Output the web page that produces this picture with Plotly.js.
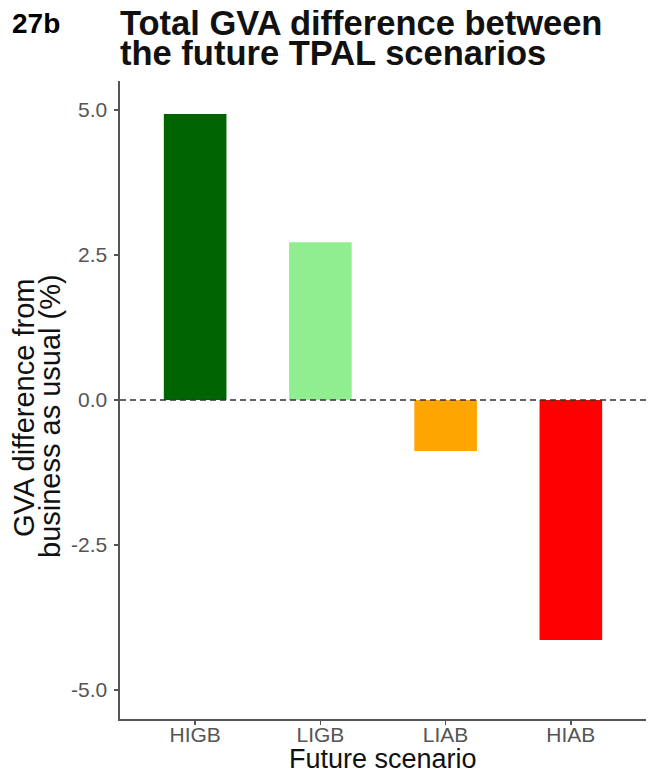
<!DOCTYPE html>
<html><head><meta charset="utf-8">
<script src="https://cdn.plot.ly/plotly-3.0.1.min.js"></script>
<style>body{margin:0;background:#fff}#chart{width:666px;height:776px}</style>
</head><body><div id="chart"></div>
<script>
const scenarios = ["HIGB", "LIGB", "LIAB", "HIAB"];
const gvaDiff = [4.93, 2.72, -0.88, -4.14];
const barColors = ["#006400", "#90EE90", "#FFA500", "#FF0000"];
const yTicks = [-5, -2.5, 0, 2.5, 5];
const yTickText = ["-5.0", "-2.5", "0.0", "2.5", "5.0"];

const font = "Liberation Sans, Arial, sans-serif";
const L = 120, T = 81, W = 526, H = 638;
const px = v => (v - L) / W;
const py = v => 1 - (v - T) / H;

const trace = {
  type: "bar", x: scenarios, y: gvaDiff, width: 0.5,
  marker: {color: barColors, line: {width: 0}}, hoverinfo: "none"
};
const layout = {
  width: 666, height: 776,
  margin: {l: L, r: 666 - L - W, t: T, b: 776 - T - H},
  paper_bgcolor: "#fff", plot_bgcolor: "#fff",
  showlegend: false,
  xaxis: {
    range: [-0.6, 3.6], showgrid: false, zeroline: false,
    showline: true, linecolor: "#555", linewidth: 1.6,
    ticks: "outside", ticklen: 4, tickcolor: "#555", tickwidth: 1.3,
    ticklabelstandoff: -8,
    tickfont: {family: font, size: 21, color: "#555"}
  },
  yaxis: {
    range: [-5.5, 5.5], showgrid: false, zeroline: false,
    showline: true, linecolor: "#555", linewidth: 1.6,
    ticks: "outside", ticklen: 4, tickcolor: "#555", tickwidth: 1.3,
    ticklabelstandoff: 3,
    tickvals: yTicks, ticktext: yTickText,
    tickfont: {family: font, size: 21, color: "#555"}
  },
  shapes: [{
    type: "line", xref: "paper", yref: "y", x0: 0, x1: 1, y0: 0, y1: 0,
    line: {color: "#333", width: 1.4, dash: "6px,4px"}
  }],
  annotations: [
    {text: "<b>27b</b>", xref: "paper", yref: "paper", x: px(10), y: py(23),
     xanchor: "left", yanchor: "middle", height: 26, showarrow: false, font: {family: font, size: 28, color: "#000"}},
    {text: "<b>Total GVA difference between</b>", xref: "paper", yref: "paper", x: px(118), y: py(23),
     xanchor: "left", yanchor: "middle", height: 26, showarrow: false, font: {family: font, size: 34.5, color: "#111"}},
    {text: "<b>the future TPAL scenarios</b>", xref: "paper", yref: "paper", x: px(118), y: py(53),
     xanchor: "left", yanchor: "middle", height: 26, showarrow: false, font: {family: font, size: 34.5, color: "#111"}},
    {text: "GVA difference from", xref: "paper", yref: "paper",
     x: px(24), y: py(408), xanchor: "center", yanchor: "middle", textangle: -90, showarrow: false,
     font: {family: font, size: 29, color: "#111"}},
    {text: "business as usual (%)", xref: "paper", yref: "paper",
     x: px(50), y: py(416), xanchor: "center", yanchor: "middle", textangle: -90, showarrow: false,
     font: {family: font, size: 29, color: "#111"}},
    {text: "Future scenario", xref: "paper", yref: "paper",
     x: px(383), y: py(776), xanchor: "center", yanchor: "bottom", showarrow: false,
     font: {family: font, size: 27, color: "#111"}}
  ]
};
Plotly.newPlot("chart", [trace], layout, {displayModeBar: false, staticPlot: true});
</script></body></html>
